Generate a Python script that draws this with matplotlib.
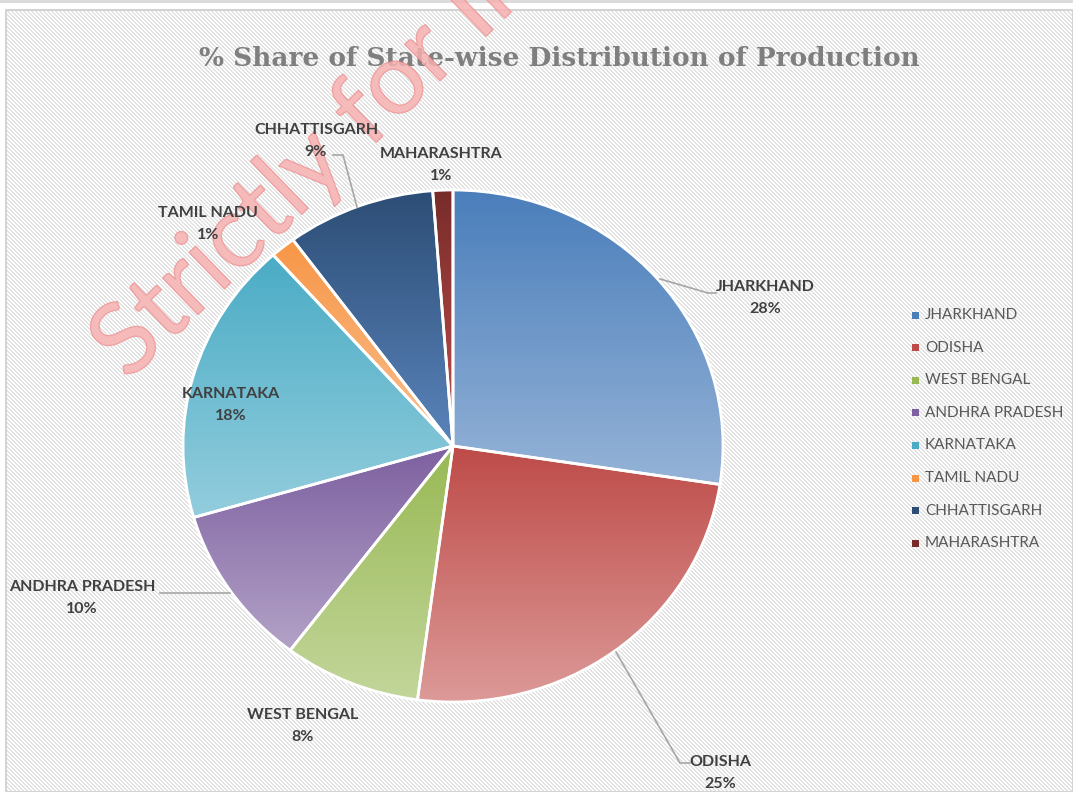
import numpy as np
import matplotlib.pyplot as plt
import matplotlib.patheffects as pe
from matplotlib.colors import LinearSegmentedColormap, ListedColormap
from matplotlib.patches import Rectangle

states = ['JHARKHAND', 'ODISHA', 'WEST BENGAL', 'ANDHRA PRADESH',
          'KARNATAKA', 'TAMIL NADU', 'CHHATTISGARH', 'MAHARASHTRA']
shares = [27.4, 24.7, 8.2, 10.2, 17.9, 1.5, 8.9, 1.2]
pct_labels = ['28%', '25%', '8%', '10%', '18%', '1%', '9%', '1%']

# gradient colours (top, bottom) per slice
top_cols = ['#4a7ebb', '#be4b48', '#98b954', '#7d60a0', '#4aacc5', '#f79646', '#2c4d75', '#772c2a']
bot_cols = ['#95b3d7', '#dc9a98', '#c3d69b', '#b3a2c7', '#93cddd', '#fac090', '#5a84bb', '#c0504d']

# label positions in pixels (center of name line)
label_pos = [(765, 287), (720, 762), (303, 715), (82, 587),
             (231, 394), (208, 213), (316, 130), (441, 154)]
leaders = {0: [(660, 279), (708, 293), (716, 293)],
           1: [(616, 652), (680, 763), (690, 763)],
           3: [(230, 593), (160, 593)],
           6: [(357, 207), (343, 155), (333, 155)]}

W, H = 1073, 792
fig = plt.figure(figsize=(W / 100, H / 100), dpi=100)
fig.patch.set_facecolor('white')

# background overlay in pixel coords, diagonal stripe texture
bg = fig.add_axes([0, 0, 1, 1])
yy, xx = np.mgrid[0:H, 0:W]
stripes = ((xx - yy) % 4 < 2).astype(float)
stripes[:10, :] = 0
stripes[:, :6] = 0
bg.imshow(stripes, cmap=ListedColormap(['white', '#e2e2e2']), interpolation='nearest',
          extent=[0, W, H, 0], aspect='auto')
bg.set_xlim(0, W)
bg.set_ylim(H, 0)
bg.axis('off')
bg.add_patch(Rectangle((6, 10), W - 6, H - 10, facecolor='none', edgecolor='#d4d4d4',
                       linewidth=1.5))
bg.plot([0, W], [1, 1], color='#d9d9d9', lw=2)

# pie axes (elliptical)
cx, cy, rx, ry = 453, 446, 270, 256
ax = fig.add_axes([(cx - rx) / W, (H - cy - ry) / H, 2 * rx / W, 2 * ry / H])
wedges, _ = ax.pie(shares, startangle=90, counterclock=False, radius=1,
                   wedgeprops=dict(edgecolor='white', linewidth=2))
ax.set_aspect('auto')
ax.axis('off')

grad = np.linspace(0, 1, 256).reshape(-1, 1)
for w, c0, c1 in zip(wedges, top_cols, bot_cols):
    ext = w.get_path().get_extents()
    cmap = LinearSegmentedColormap.from_list('g', [c0, c1])
    im = ax.imshow(grad, cmap=cmap, extent=[ext.x0, ext.x1, ext.y0, ext.y1],
                   origin='upper', aspect='auto', zorder=1)
    im.set_clip_path(w)
    w.set_facecolor('none')
    w.set_zorder(2)
ax.set_xlim(-1, 1)
ax.set_ylim(-1, 1)

# overlay for labels / watermark
ov = fig.add_axes([0, 0, 1, 1])
ov.set_xlim(0, W)
ov.set_ylim(H, 0)
ov.axis('off')
ov.patch.set_alpha(0)

for i, (name, pct) in enumerate(zip(states, pct_labels)):
    x, y = label_pos[i]
    ov.text(x, y, name, ha='center', va='center', fontsize=11.5, fontweight='bold',
            color='#404040', family='Lato', zorder=12)
    ov.text(x, y + 22, pct, ha='center', va='center', fontsize=11.5, fontweight='bold',
            color='#404040', family='Lato', zorder=12)
for i, pts in leaders.items():
    xs, ys = zip(*pts)
    ov.plot(xs, ys, color='#a6a6a6', lw=1.2, zorder=12)

ov.text(559, 58, '% Share of State-wise Distribution of Production', ha='center', va='center',
        fontsize=19, fontweight='bold', color='#7f7f7f', family='DejaVu Serif', zorder=5)

# legend
for i, name in enumerate(states):
    y = 315 + i * 32.6
    ov.add_patch(Rectangle((912, y - 3.5), 7, 7, facecolor=top_cols[i], edgecolor='none'))
    ov.text(925, y, name, ha='left', va='center', fontsize=11, color='#595959', family='Lato')

# watermark
ov.text(128, 382, 'Strictly for Internal Use', rotation=44, rotation_mode='anchor',
        ha='left', va='baseline', fontsize=72, color='#f7b0b0', alpha=0.6,
        family='Lato', zorder=10,
        path_effects=[pe.Stroke(linewidth=1.0, foreground='#ea7070'), pe.Normal()])

fig.savefig('out.png', dpi=100)
